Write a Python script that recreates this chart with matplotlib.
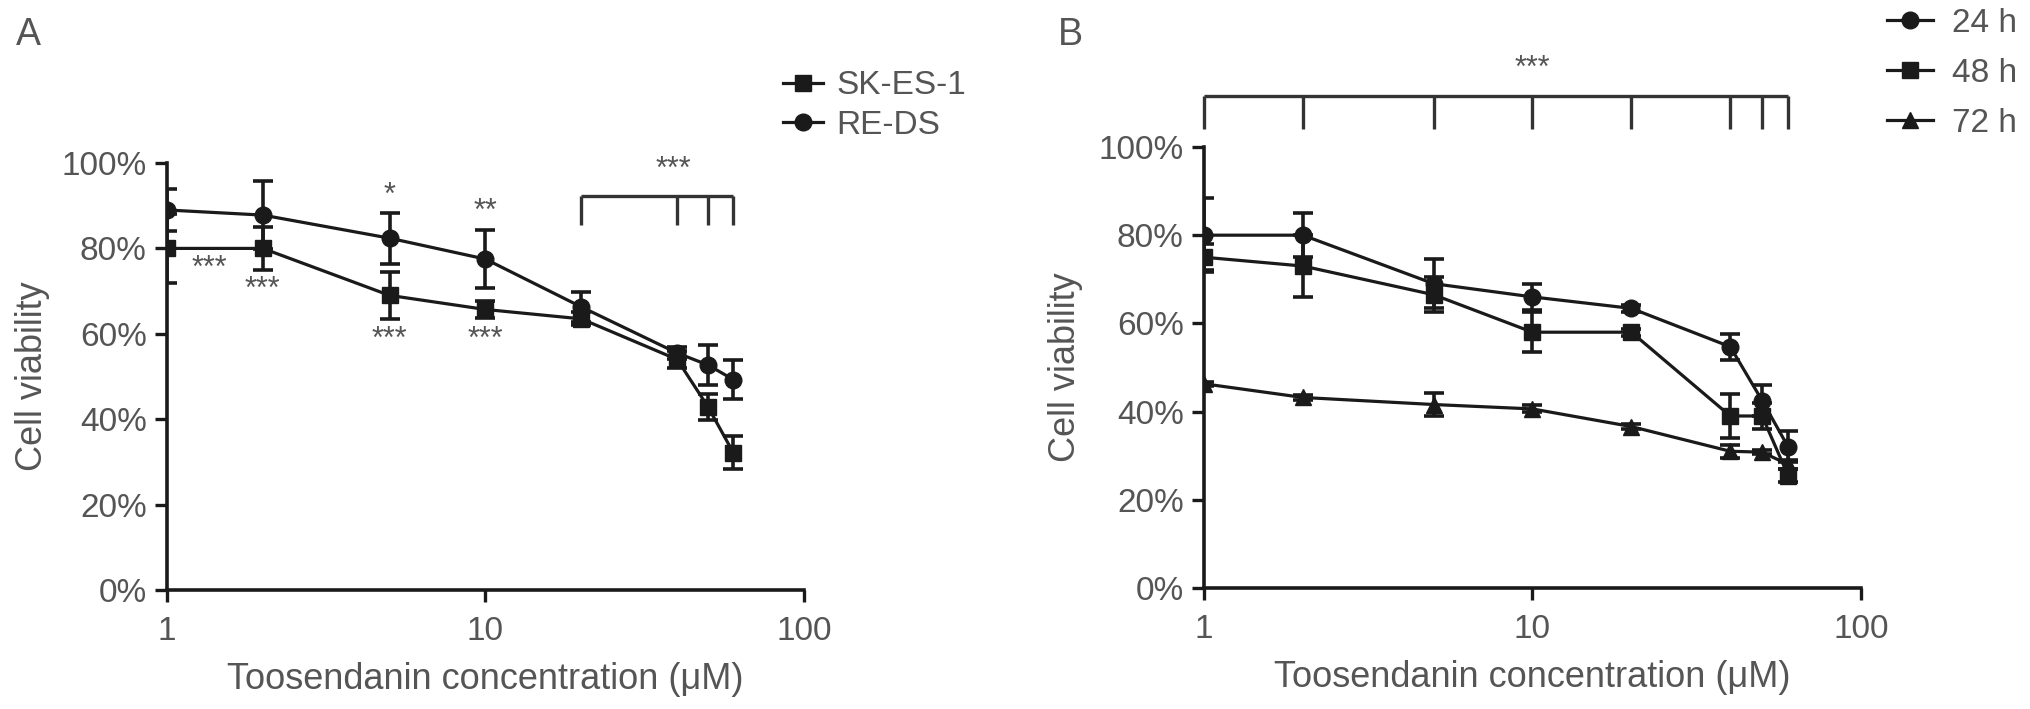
import matplotlib
matplotlib.use("Agg")
import matplotlib.pyplot as plt
from matplotlib.lines import Line2D

plt.rcParams['font.family'] = ['Liberation Sans', 'DejaVu Sans']

# ---------------- data ----------------
conc = [1, 2, 5, 10, 20, 40, 50, 60]

# Panel A
sk_es1 = [80.0, 80.0, 69.0, 65.7, 63.5, 54.0, 42.9, 32.2]
sk_es1_err = [8.0, 5.0, 5.5, 2.0, 1.5, 2.0, 3.0, 3.8]
re_ds = [89.0, 87.8, 82.4, 77.5, 66.3, 55.5, 52.7, 49.3]
re_ds_err = [5.0, 8.0, 6.0, 6.7, 3.6, 1.5, 4.7, 4.6]

# Panel B
h24 = [80.0, 80.0, 69.0, 66.0, 63.4, 54.7, 42.5, 32.0]
h24_err = [8.4, 5.0, 5.5, 3.0, 0.8, 3.0, 3.5, 3.5]
h48 = [75.0, 73.0, 66.5, 58.0, 58.0, 39.0, 39.0, 25.5]
h48_err = [3.0, 7.0, 4.0, 4.5, 0.8, 5.0, 3.0, 1.5]
h72 = [46.3, 43.2, 41.6, 40.6, 36.6, 31.0, 30.8, 28.0]
h72_err = [0.5, 0.5, 2.5, 0.8, 0.5, 1.5, 0.5, 1.0]

yticks = [0, 20, 40, 60, 80, 100]
ytick_labels = ['0%', '20%', '40%', '60%', '80%', '100%']
xticks = [1, 10, 100]
xtick_labels = ['1', '10', '100']

# significance annotations for panel A: (x, y, text)
stars_A = [(1.36, 75.1, '***'), (2, 70.3, '***'), (5, 92.4, '*'),
           (5, 58.6, '***'), (10, 88.6, '**'), (10, 58.6, '***')]
bracket_A_x = [20, 40, 50, 60]
bracket_B_x = [1, 2, 5, 10, 20, 40, 50, 60]

TXT = '#555555'
LN = '#1a1a1a'

fig = plt.figure(figsize=(20.31, 7.09), dpi=100)
axA = fig.add_axes([0.0822, 0.1678, 0.3136, 0.6023])
axB = fig.add_axes([0.5928, 0.1707, 0.3235, 0.622])

ekw = dict(color=LN, lw=2.3, elinewidth=2.6, capsize=7, capthick=2.6)

axA.errorbar(conc, sk_es1, yerr=sk_es1_err, fmt='-s', ms=12, **ekw)
axA.errorbar(conc, re_ds, yerr=re_ds_err, fmt='-o', ms=12, **ekw)

axB.errorbar(conc, h24, yerr=h24_err, fmt='-o', ms=12, **ekw)
axB.errorbar(conc, h48, yerr=h48_err, fmt='-s', ms=12, **ekw)
axB.errorbar(conc, h72, yerr=h72_err, fmt='-^', ms=11, **ekw)

for ax in (axA, axB):
    ax.set_xscale('log')
    ax.set_xlim(1, 100)
    ax.set_ylim(0, 100)
    ax.set_xticks(xticks)
    ax.set_xticklabels(xtick_labels)
    ax.minorticks_off()
    ax.set_yticks(yticks)
    ax.set_yticklabels(ytick_labels)
    for s in ('top', 'right'):
        ax.spines[s].set_visible(False)
    for s in ('left', 'bottom'):
        ax.spines[s].set_linewidth(2.6)
        ax.spines[s].set_color(LN)
    ax.tick_params(axis='both', length=8.5, width=2.4, color=LN,
                   labelsize=24, labelcolor=TXT)
    ax.tick_params(axis='y', pad=6)
    ax.tick_params(axis='x', pad=10)
    ax.set_ylabel('Cell viability', fontsize=26, color=TXT)
    ax.set_xlabel('Toosendanin concentration (\u03bcM)', fontsize=26, color=TXT)

axA.yaxis.set_label_coords(-0.184, 0.5)
axB.yaxis.set_label_coords(-0.184, 0.5)
axA.xaxis.set_label_coords(0.5, -0.168)
axB.xaxis.set_label_coords(0.5, -0.163)

# stars panel A
for x, y, t in stars_A:
    axA.text(x, y, t, ha='center', va='center', fontsize=22, color=TXT)

# bracket A
bl = dict(color='#333333', lw=2.4, clip_on=False, solid_capstyle='butt')
axA.plot([bracket_A_x[0], bracket_A_x[-1]], [92.3, 92.3], **bl)
for x in bracket_A_x:
    axA.plot([x, x], [92.3, 85.5], **bl)
axA.text(39, 98.3, '***', ha='center', va='center', fontsize=22, color=TXT, clip_on=False)

# bracket B
axB.plot([bracket_B_x[0], bracket_B_x[-1]], [111.6, 111.6], **bl)
for x in bracket_B_x:
    axB.plot([x, x], [111.6, 104.1], **bl)
axB.text(10, 117.6, '***', ha='center', va='center', fontsize=22, color=TXT, clip_on=False)

# panel letters
fig.text(16 / 2031, 1 - 35 / 709, 'A', fontsize=27, color=TXT, ha='left', va='center')
fig.text(1058 / 2031, 1 - 35 / 709, 'B', fontsize=27, color=TXT, ha='left', va='center')

# legends
hA = [Line2D([], [], color=LN, lw=2.3, marker='s', ms=12),
      Line2D([], [], color=LN, lw=2.3, marker='o', ms=12)]
legA = fig.legend(hA, ['SK-ES-1', 'RE-DS'], loc='upper left',
                  bbox_to_anchor=(0.3855, 0.9006), frameon=False, fontsize=24,
                  handlelength=1.2, handletextpad=0.4, labelspacing=0.25,
                  borderpad=0, borderaxespad=0, labelcolor=TXT)

hB = [Line2D([], [], color=LN, lw=2.3, marker='o', ms=12),
      Line2D([], [], color=LN, lw=2.3, marker='s', ms=12),
      Line2D([], [], color=LN, lw=2.3, marker='^', ms=11)]
legB = fig.legend(hB, ['24 h', '48 h', '72 h'], loc='upper left',
                  bbox_to_anchor=(0.929, 0.989), frameon=False, fontsize=24,
                  handlelength=1.38, handletextpad=0.57, labelspacing=0.57,
                  borderpad=0, borderaxespad=0, labelcolor=TXT)

fig.savefig('out.png', dpi=100)
